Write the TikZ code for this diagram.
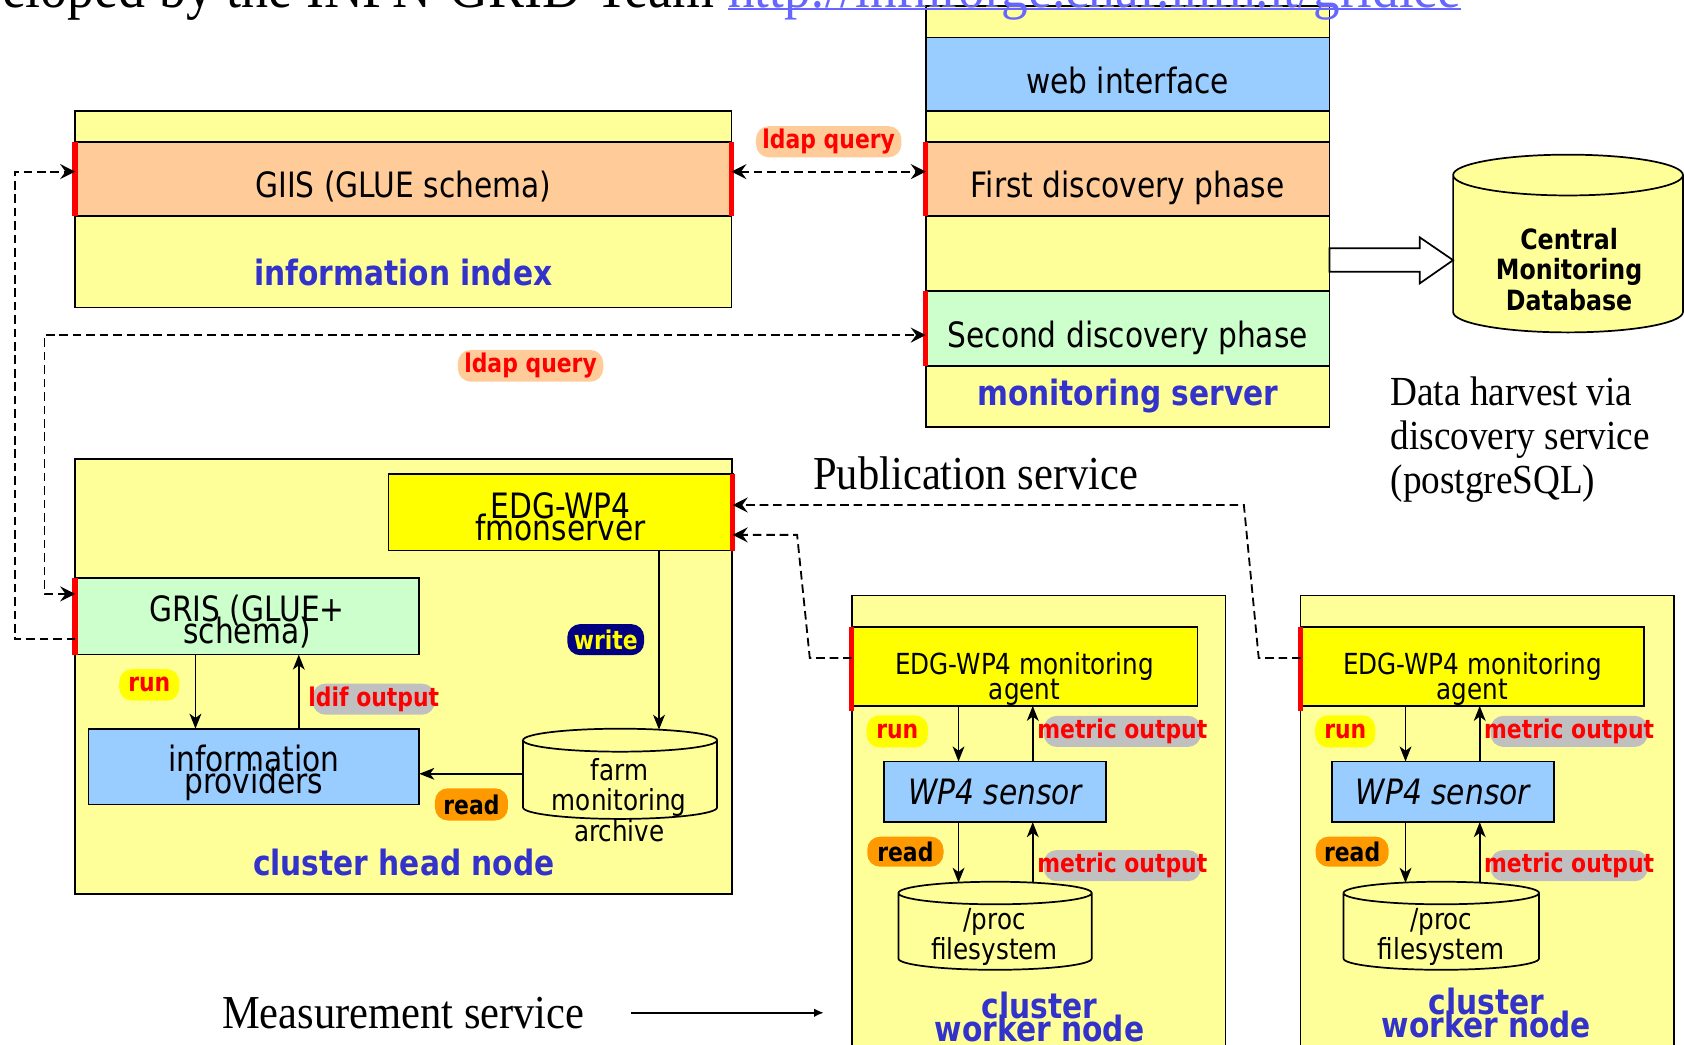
\documentclass[tikz,border=0pt]{standalone}
\usepackage{fontspec}
\setmainfont{Liberation Serif}[FakeStretch=0.9]
\newfontfamily\sansfam{DejaVu Sans}[FakeStretch=0.85]
\usetikzlibrary{arrows.meta,calc}

\definecolor{paleyel}{HTML}{FFFF99}
\definecolor{peach}{HTML}{FFCC99}
\definecolor{skyb}{HTML}{99CCFF}
\definecolor{mint}{HTML}{CCFFCC}
\definecolor{brightyel}{HTML}{FFFF00}
\definecolor{labelblue}{RGB}{51,51,204}
\definecolor{pillgray}{HTML}{C0C0C0}
\definecolor{navy}{HTML}{000080}
\definecolor{amber}{HTML}{FF9900}
\definecolor{linkblue}{RGB}{102,102,255}

% font size with tight, possibly overlapping, line spacing
\newcommand\fsz[2]{\fontsize{#1}{#2}\selectfont\lineskiplimit=-100pt\lineskip=0pt}

% vertical cylinder drawn over an invisible rectangular node
% #1 node name, #2 half width, #3 end-ellipse y radius
\newcommand\drawcyl[3]{%
  \path[cylbody] ([yshift=-#3pt]#1.north west) -- ([yshift=#3pt]#1.south west)
    arc[start angle=180,end angle=360,x radius=#2pt,y radius=#3pt]
    -- ([yshift=-#3pt]#1.north east)
    arc[start angle=0,end angle=180,x radius=#2pt,y radius=#3pt] -- cycle
    ([yshift=-#3pt]#1.north west)
    arc[start angle=180,end angle=360,x radius=#2pt,y radius=#3pt];}

\tikzset{
  every node/.style={inner sep=0pt, outer sep=0pt},
  sz/.style 2 args={minimum width=#1pt, minimum height=#2pt},
  th/.style={text height=#1pt},
  oneline/.style={text height=35pt, text depth=0pt},
  panel/.style={draw=black, line width=1.6pt, fill=paleyel, anchor=north west},
  band/.style={panel, fill=#1, align=center, font=\sansfam\fsz{32.5}{21}},
  cylnode/.style={anchor=north west},
  cylbody/.style={draw=black, line width=1.6pt, fill=paleyel},
  caption/.style={text=labelblue, font=\sansfam\bfseries\fsz{32.5}{21}, align=center},
  innertext/.style={font=\sansfam\fsz{27}{28}, align=center},
  agenttext/.style={font=\sansfam\fsz{27}{24}},
  sensortext/.style={font=\sansfam\itshape\fsz{32.5}{21}},
  redbar/.style={draw=red, line width=5pt},
  flow/.style={draw=black, line width=1.5pt, -{Stealth[length=14pt,width=11pt,inset=4pt]}},
  dashlink/.style={draw=black, line width=1.7pt, dash pattern=on 8pt off 4.5pt},
  dashflow/.style={dashlink, -{Stealth[length=14pt,width=14pt,inset=5pt]}},
  dashboth/.style={dashlink, {Stealth[length=14pt,width=14pt,inset=5pt]}-{Stealth[length=14pt,width=14pt,inset=5pt]}},
  pill/.style={rounded corners=12pt, inner xsep=6pt, minimum height=29pt, font=\sansfam\bfseries\fsz{24}{24}},
  serifnote/.style={font=\fsz{44}{44}},
}

\begin{document}
\begin{tikzpicture}[x=1pt,y=-1pt]
\useasboundingbox (0,0) rectangle (1568,973);
\clip (0,0) rectangle (1568,973);

% ---------------- monitoring server column ----------------
\node[band=paleyel, sz={376}{29.3}] (srvA) at (862,5.5) {};
\node[band=skyb, sz={376}{68.6}, oneline] (web) at (862,34.8) {web interface};
\node[band=paleyel, sz={376}{28.5}] (srvB) at (862,103.4) {};
\node[band=peach, sz={376}{69.2}, oneline] (first) at (862,131.9) {First discovery phase};
\node[band=paleyel, sz={376}{69.9}] (srvC) at (862,201.1) {};
\node[band=mint, sz={376}{69.5}, oneline] (second) at (862,271) {Second discovery phase};
\node[band=paleyel, sz={376}{56.8}] (srvD) at (862,340.5) {};
\node[caption] (srvlabel) at (1050,369) {monitoring server};

% ---------------- information index ----------------
\node[panel, sz={611}{182.8}] (infoidx) at (70,103.4) {};
\node[band=peach, sz={611}{69.2}, oneline] (giis) at (70,131.9) {GIIS (GLUE schema)};
\node[caption] (infolabel) at (375.5,254) {information index};

% ---------------- central database ----------------
\node[cylnode, sz={214}{165.5}] (db) at (1353,144) {};
\drawcyl{db}{107}{19}
\node[font=\sansfam\bfseries\fsz{26}{28.7}, align=center] (dbtext) at (1461,251) {Central\\Monitoring\\Database};

% hollow harvest arrow from the server to the database
\draw[line width=1.6pt, fill=white]
  ($(srvC.east)+(0,-5)$) -- ++(84,0) -- ++(0,-10) -- ($(db.west)+(0,15.5)$)
  -- ($(srvC.east)+(84,27.8)$) -- ++(0,-10.8) -- ($(srvC.east)+(0,17)$) -- cycle;

% ---------------- cluster head node ----------------
\node[panel, sz={611.5}{404.8}] (head) at (70,427.6) {};
\node[band=brightyel, sz={320.5}{71.3}, th=53] (fmon) at (361.7,441.4) {EDG-WP4\\fmonserver};
\node[band=mint, sz={320}{71}, th=55] (gris) at (70,538.5) {GRIS (GLUE+\\schema)};
\node[band=skyb, sz={308}{70.7}, th=57] (infop) at (82.4,678.5) {information\\providers};
\node[cylnode, sz={180.7}{84}] (farm) at (487,678.5) {};
\drawcyl{farm}{90.35}{10.7}
\node[innertext] (farmtext) at (576.6,745) {farm\\monitoring\\archive};
\node[caption] (headlabel) at (376,803) {cluster head node};

% ---------------- worker node 1 ----------------
\node[panel, sz={348}{430}] (work1) at (793,554.5) {};
\node[band=brightyel, sz={322}{71}, agenttext, th=68] (agent1) at (793,583.6) {EDG-WP4 monitoring\\agent};
\node[band=skyb, sz={207}{56.5}, sensortext] (sensor1) at (823,709) {WP4 sensor};
\node[cylnode, sz={180}{82}] (proc1) at (836.5,821) {};
\drawcyl{proc1}{90}{10.5}
\node[innertext] (proc1text) at (926,872) {/proc\\filesystem};
\node[caption] (work1label) at (968,947) {cluster\\worker node};

% ---------------- worker node 2 ----------------
\node[panel, sz={348}{430}] (work2) at (1211,554.5) {};
\node[band=brightyel, sz={320}{71}, agenttext, th=68] (agent2) at (1211,583.6) {EDG-WP4 monitoring\\agent};
\node[band=skyb, sz={207}{56.5}, sensortext] (sensor2) at (1240,709) {WP4 sensor};
\node[cylnode, sz={182}{82}] (proc2) at (1251,821) {};
\drawcyl{proc2}{91}{10.5}
\node[innertext] (proc2text) at (1342,872) {/proc\\filesystem};
\node[caption] (work2label) at (1384,943) {cluster\\worker node};

% ---------------- red interface markers ----------------
\draw[redbar] (giis.north west) -- (giis.south west);
\draw[redbar] (giis.north east) -- (giis.south east);
\draw[redbar] (first.north west) -- (first.south west);
\draw[redbar] (second.north west) -- (second.south west);
\draw[redbar] (fmon.north east) -- (fmon.south east);
\draw[redbar] (gris.north west) -- (gris.south west);
\draw[redbar] (agent1.north west) -- ($(agent1.south west)+(0,5)$);
\draw[redbar] (agent2.north west) -- ($(agent2.south west)+(0,5)$);

% ---------------- ldap queries and publication links ----------------
\draw[dashflow] ($(gris.south west)+(0,-14.3)$) -- ++(-56.3,0) |- ($(giis.west)+(0,-6.7)$);
\draw[dashboth] ($(giis.east)+(0,-6.7)$) -- ($(first.west)+(0,-6.7)$);
\draw[dashboth] ($(gris.west)+(0,-21)$) -- ++(-28.5,0) |- ($(second.west)+(0,6.25)$);
\draw[dashflow] ($(agent2.west)+(0,-7.7)$) -- ++(-39,0) -- ($(fmon.east)+(476,-6.8)$) -- ($(fmon.east)+(0,-6.8)$);
\draw[dashflow] ($(agent1.west)+(0,-7.7)$) -- ++(-39,0) -- ($(fmon.east)+(60,21)$) -- ($(fmon.east)+(0,21)$);

% ---------------- solid data flows ----------------
\draw[flow] ($(gris.south west)+(112,0)$) -- ($(infop.north west)+(99.6,0)$);
\draw[flow] ($(infop.north west)+(195.8,0)$) -- ($(gris.south west)+(208.2,0)$);
\draw[flow] ($(fmon.south west)+(251.9,0)$) -- ($(farm.north west)+(126.6,1)$);
\draw[flow] (farm.west) -- (farm.west -| infop.east);

\draw[flow] ($(agent1.south west)+(99.5,0)$) -- ($(sensor1.north west)+(69.5,0)$);
\draw[flow] ($(sensor1.north west)+(138.6,0)$) -- ($(agent1.south west)+(168.6,0)$);
\draw[flow] ($(sensor1.south west)+(69.5,0)$) -- ($(proc1.north west)+(56,1)$);
\draw[flow] ($(proc1.north west)+(125.1,1)$) -- ($(sensor1.south west)+(138.6,0)$);

\draw[flow] ($(agent2.south west)+(97.7,0)$) -- ($(sensor2.north west)+(68.7,0)$);
\draw[flow] ($(sensor2.north west)+(137.8,0)$) -- ($(agent2.south west)+(166.8,0)$);
\draw[flow] ($(sensor2.south west)+(68.7,0)$) -- ($(proc2.north west)+(57.7,1)$);
\draw[flow] ($(proc2.north west)+(126.8,1)$) -- ($(sensor2.south west)+(137.8,0)$);

% ---------------- flow labels ----------------
\node[pill, fill=peach, text=red, sz={126}{29}] (ldap1) at (771.6,132) {ldap query};
\node[pill, fill=peach, text=red, sz={124}{29.5}] (ldap2) at (494,340.6) {ldap query};
\node[pill, fill=brightyel, text=red, sz={56}{29.5}] (runhead) at (139,637.7) {run};
\node[pill, fill=pillgray, text=red, inner xsep=-4pt] (ldif) at (348,651) {ldif output};
\node[pill, fill=navy, text=brightyel, sz={71}{29}] (write) at (564,595.6) {write};
\node[pill, fill=amber, text=black, sz={68}{30}] (readhead) at (439,749) {read};

\node[pill, fill=brightyel, text=red, sz={57}{30}] (run1) at (835.5,681) {run};
\node[pill, fill=pillgray, text=red, inner xsep=-6pt] (met1a) at (1045,681) {metric output};
\node[pill, fill=amber, text=black, sz={71}{28}] (read1) at (843,793) {read};
\node[pill, fill=pillgray, text=red, inner xsep=-6pt] (met1b) at (1045,806) {metric output};

\node[pill, fill=brightyel, text=red, sz={56}{30}] (run2) at (1252.6,681) {run};
\node[pill, fill=pillgray, text=red, inner xsep=-6pt] (met2a) at (1461,681) {metric output};
\node[pill, fill=amber, text=black, sz={68}{28}] (read2) at (1259,793) {read};
\node[pill, fill=pillgray, text=red, inner xsep=-6pt] (met2b) at (1461,806) {metric output};

% ---------------- service annotations ----------------
\node[serifnote] (pubnote) at (908.5,441) {Publication service};
\node[serifnote] (measnote) at (375.5,943) {Measurement service};
\coordinate (measend) at (767,943);
\draw[line width=1.5pt, -{Latex[length=9pt,width=8pt]}] ($(measnote.east)+(43.7,0)$) -- (measend);
\node[font=\fsz{38.5}{41}, align=left, anchor=west] (harvest) at (1294.8,409) {Data harvest via\\discovery service\\(postgreSQL)};

% ---------------- heading line ----------------
\node[font=\fsz{55.8}{56}, anchor=base east] (credit) at (665,7) {developed by the INFN-GRID Team};
\node[font=\fsz{55}{56}, text=linkblue, anchor=base west] (link) at (678,7) {http://infnforge.cnaf.infn.it/gridice};
\draw[linkblue, line width=2.5pt] ($(link.base west)+(0,1.5)$) -- ($(link.base east)+(0,1.5)$);
\end{tikzpicture}
\end{document}
